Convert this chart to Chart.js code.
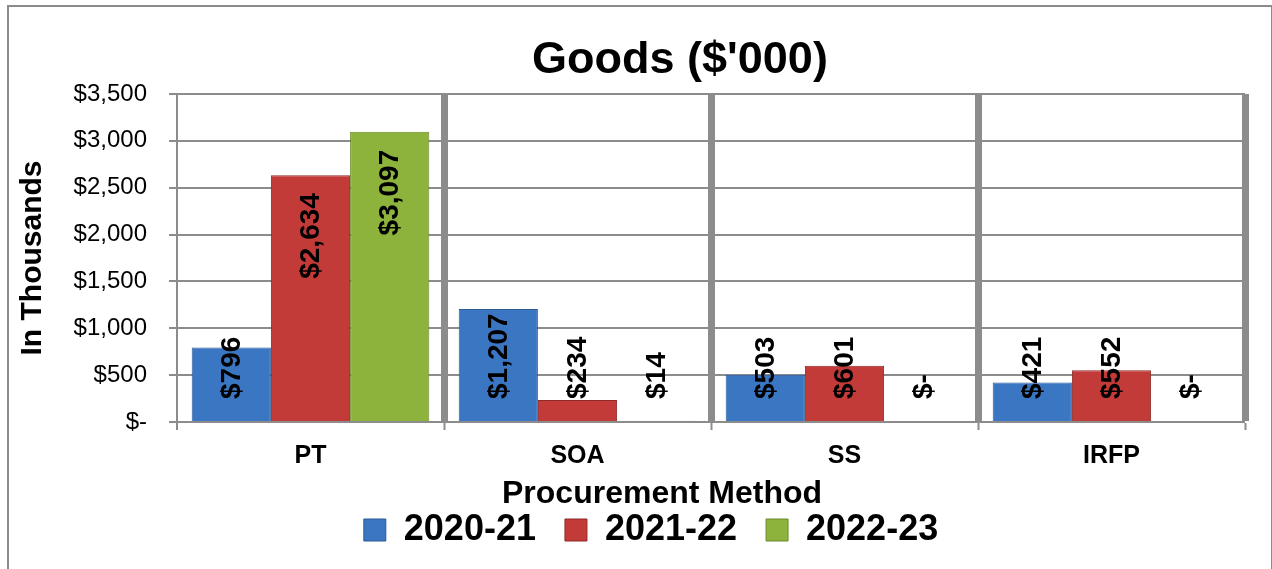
<!DOCTYPE html>
<html>
<head>
<meta charset="utf-8">
<title>Goods ($'000)</title>
<script src="https://cdn.jsdelivr.net/npm/chart.js@4.4.0/dist/chart.umd.min.js"></script>
<style>
    body { margin: 0; background: #fff; overflow: hidden; }
    #frame {
        position: absolute; left: 7px; top: 5px;
        width: 1262px; height: 620px;
        border: 2px solid #8c8c8c;
    }
    #goodsChart { position: absolute; left: 0; top: 0; }
</style>
</head>
<body>
<div id="frame"></div>
<canvas id="goodsChart" width="1272" height="569"></canvas>

<script>
// Chart data
const categories = ['PT', 'SOA', 'SS', 'IRFP'];
const seriesNames = ['2020-21', '2021-22', '2022-23'];
const values2020 = [796, 1207, 503, 421];
const values2021 = [2634, 234, 601, 552];
const values2022 = [3097, 14, 0, 0];
const yMax = 3500;
const yStep = 500;

const chartTitle = "Goods ($'000)";
const xTitle = 'Procurement Method';
const yTitle = 'In Thousands';

const FONT = '"Liberation Sans", Arial, sans-serif';
const GRID = '#8c8c8c';

function money(v) {
    return v === 0 ? '$-' : '$' + v.toLocaleString('en-US');
}

// Rotated value labels, pulled down to the axis when the bar is short
const barLabels = {
    id: 'barLabels',
    afterDatasetsDraw(chart) {
        const { ctx, chartArea } = chart;
        ctx.save();
        ctx.font = 'bold 28px ' + FONT;
        ctx.fillStyle = '#000';
        ctx.textAlign = 'left';
        ctx.textBaseline = 'middle';
        chart.data.datasets.forEach((ds, i) => {
            chart.getDatasetMeta(i).data.forEach((bar, j) => {
                const text = money(ds.data[j]);
                const len = ctx.measureText(text).width;
                const bottom = Math.min(bar.y + 18 + len, chartArea.bottom - 23);
                ctx.save();
                ctx.translate(bar.x + 1, bottom);
                ctx.rotate(-Math.PI / 2);
                ctx.fillText(text, 0, 0);
                ctx.restore();
            });
        });
        ctx.restore();
    }
};

// Chart title and x axis title sit a little left of the plot centre
const headings = {
    id: 'headings',
    afterDraw(chart) {
        const { ctx, chartArea } = chart;
        const mid = (chartArea.left + chartArea.right) / 2;
        ctx.save();
        ctx.fillStyle = '#000';
        ctx.textAlign = 'center';
        ctx.textBaseline = 'middle';
        ctx.font = 'bold 45px ' + FONT;
        ctx.fillText(chartTitle, mid - 31, chartArea.top - 33);
        ctx.font = 'bold 32px ' + FONT;
        ctx.fillText(xTitle, mid - 49, chartArea.bottom + 72);
        ctx.restore();
    }
};

const colors = ['#3b76c3', '#c33b38', '#8db33d'];
const borders = ['#2b5a99', '#8f2a28', '#6a8a2a'];

new Chart(document.getElementById('goodsChart'), {
    type: 'bar',
    data: {
        labels: categories,
        datasets: [values2020, values2021, values2022].map((vals, i) => ({
            label: seriesNames[i],
            data: vals,
            backgroundColor: colors[i],
            borderColor: borders[i],
            borderWidth: 1,
            barPercentage: 1.0,
            categoryPercentage: 0.89
        }))
    },
    options: {
        responsive: false,
        animation: false,
        devicePixelRatio: 1,
        layout: {
            // the extra left padding nudges the legend right, as in the original
            padding: { top: 94, left: 30, right: 0, bottom: 11 }
        },
        plugins: {
            title: { display: false },
            tooltip: { enabled: false },
            legend: {
                position: 'bottom',
                labels: {
                    boxWidth: 22,
                    boxHeight: 22,
                    padding: 29,
                    color: '#000',
                    font: { family: FONT, size: 36, weight: 'bold' }
                }
            }
        },
        scales: {
            x: {
                grid: {
                    color: GRID,
                    lineWidth: ctx => (ctx.index === 0 ? 0 : 7),
                    tickLength: 8,
                    tickWidth: 2,
                    tickColor: GRID
                },
                border: { display: true, color: GRID, width: 2 },
                ticks: {
                    padding: 11,
                    color: '#000',
                    font: { family: FONT, size: 25, weight: 'bold' }
                },
                afterFit: scale => { scale.height = 61; }
            },
            y: {
                min: 0,
                max: yMax,
                grid: {
                    color: GRID,
                    lineWidth: 2,
                    tickLength: 8
                },
                border: { display: true, color: GRID, width: 2 },
                ticks: {
                    stepSize: yStep,
                    padding: 22,
                    color: '#000',
                    font: { family: FONT, size: 24 },
                    callback: value => money(value)
                },
                title: {
                    display: true,
                    text: yTitle,
                    color: '#000',
                    padding: { top: -15, bottom: 0 },
                    font: { family: FONT, size: 30, weight: 'bold' }
                },
                afterFit: scale => { scale.width = 147; }
            },
            // empty right-hand strip so the legend centres like the original
            yRight: {
                position: 'right',
                grid: { display: false },
                ticks: { display: false },
                border: { display: false },
                afterFit: scale => { scale.width = 27; }
            }
        }
    },
    plugins: [barLabels, headings]
});
</script>
</body>
</html>
